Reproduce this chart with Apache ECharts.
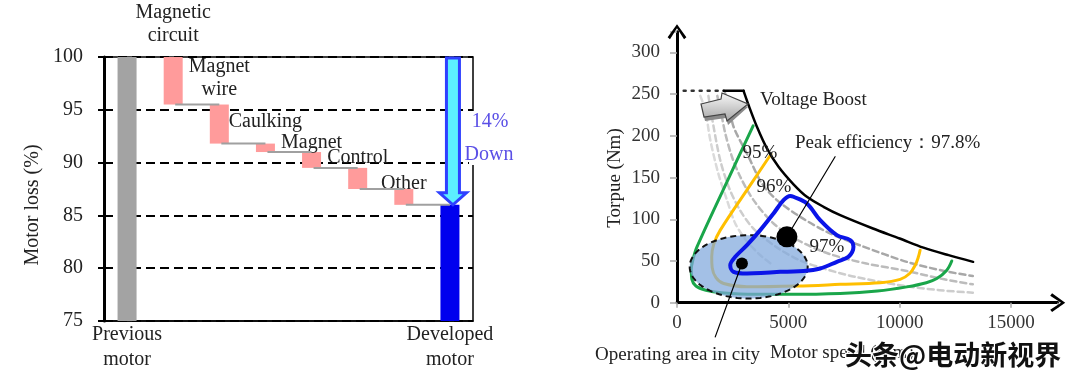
<!DOCTYPE html>
<html><head><meta charset="utf-8">
<script src="https://cdn.jsdelivr.net/npm/echarts@6/dist/echarts.min.js"></script>
<style>html,body{margin:0;padding:0;background:#fff}#c{width:1080px;height:381px}</style>
</head><body><div id="c"></div>
<script>
// ---------- left chart: motor loss waterfall ----------
const lossCategories = ['Previous\nmotor','Magnetic\ncircuit','Magnet\nwire','Caulking','Magnet','Control','Other','Developed\nmotor'];
const lossTop    = [100, 100, 95.5, 91.8, 91.0, 89.5, 87.5, 86.0];
const lossBottom = [75, 95.5, 91.8, 91.0, 89.5, 87.5, 86.0, 75];
const lossLabelGap = [0, 10, 3, 10, -2, -1, -6, 0];
const lossTicks = [75, 80, 85, 90, 95, 100];
const reductionArrow = [7, 100, 86];
const reductionText = ['14%', 'Down'];

// ---------- right chart: torque / speed map ----------
const speedTicks = [0, 5000, 10000, 15000];
const torqueTicks = [0, 50, 100, 150, 200, 250, 300];
const maxTorqueOld = [[300,254],[2100,254]];
const maxTorqueFlat = [[2100,254],[2990,254]];
const maxTorqueCurve = [[2990,254],[3214,237],[3590,211],[4040,185],[4560,163],[5233,142],[5834,127],[6580,115],[7330,105],[8800,89],[10000,77],[11070,66],[12200,57],[13300,49]];
const oldEff1 = [[1045,248],[1270,231],[1495,195],[1855,155],[2245,123],[2617,95],[3100,75],[3700,58],[4300,45]];
const oldEff2 = [[1410,248],[1650,210],[1950,170],[2350,137],[2850,110],[3500,87],[4500,66],[5500,51],[6580,41],[8000,31],[10000,21],[11800,15],[13288,12]];
const oldEff3 = [[1810,248],[2000,225],[2168,203],[2468,175],[2841,151],[3438,123],[4336,95],[5500,74],[6900,58],[8500,47],[10322,38],[12000,28],[13288,22]];
const oldMaxCurve = [[2150,252],[2350,235],[2540,211],[3214,175],[3814,143],[4488,123],[5534,103],[6800,84],[8300,68],[10322,49],[12000,38],[13288,32]];
const eff95 = [[3420,212],[2244,145],[897,67],[720,52],[640,40],[670,28],[850,20],[1300,15],[2000,12],[3500,10],[5000,10],[7330,11],[9000,14],[10322,19],[11200,24],[11670,29],[12118,39],[12342,50]];
const eff96 = [[4220,178],[3366,144],[1943,87],[1650,70],[1560,55],[1580,42],[1750,30],[2094,23],[3142,19],[5386,20],[7330,22],[9124,24],[10022,28],[10450,35],[10700,45],[10844,55],[10920,63]];
const eff97 = [[4636,37],[3142,35],[2540,37],[2392,45],[2617,55],[3142,69],[3739,87],[4336,107],[4785,123],[5084,128],[5233,127],[5834,119],[6431,99],[7181,81],[7778,75],[7926,67],[7702,55],[7181,49],[6431,41],[5682,38],[4636,37]];
const cityArea = [3220, 43, 2650, 38]; // centre x, centre y, half width, half height
const peakPoint = [4937, 79];
const cityPoint = [2917, 47];
const peakLeader = [[4937,79],[7100,175]];
const cityLeader = [[2917,47],[1718,-41]];

const serif = '"Liberation Serif", "Times New Roman", serif';
const chart = echarts.init(document.getElementById('c'), null, {renderer:'canvas'});

const pinkC = '#ff9b9b', grayC = '#a3a3a3', blueC = '#0000ee';
const deltaData = lossTop.map((t,i)=>{
  const item = {value: +(t - lossBottom[i]).toFixed(2),
    itemStyle:{color: i===0 ? grayC : (i===lossTop.length-1 ? blueC : pinkC)}};
  if (i>0 && i<lossTop.length-1) {
    item.label = {show:true, position:'top', distance: lossLabelGap[i], formatter: lossCategories[i]};
  }
  return item;
});
const connectorData = [];
for (let i=1;i<lossBottom.length-1;i++) connectorData.push([i, lossBottom[i]]);

function lineS(data, color, width, type, smooth){
  return {type:'line', xAxisIndex:1, yAxisIndex:1, data, showSymbol:false, symbol:'none', silent:true,
    smooth: smooth, lineStyle:{color, width, type: type||'solid', cap:'round', join:'round'}, z:2};
}

const chevron = 'path://M0,14 L10,0 L20,14 L17.5,16 L10,4.5 L2.5,16 Z';

const option = {
  animation:false,
  backgroundColor:'#fff',
  textStyle:{fontFamily: serif},
  grid:[
    {left:104, top:57, width:369, height:264, show:true, borderColor:'#000', borderWidth:1.5, backgroundColor:'transparent'},
    {left:677, top:31.65, right:22.3, bottom:78.3}
  ],
  xAxis:[
    {type:'category', gridIndex:0, data: lossCategories,
     axisLine:{show:true, lineStyle:{color:'#000', width:1.5}}, axisTick:{show:false},
     axisLabel:{interval:0, margin:1, lineHeight:25, fontSize:20, color:'#222', fontFamily:serif,
       formatter:(v,i)=> (i===0 || i===lossCategories.length-1) ? v : ''}},
    {type:'value', gridIndex:1, min:0, max:17100, interval:5000,
     axisLine:{show:true, onZero:false, symbol:['none', chevron], symbolSize:[20,15], lineStyle:{color:'#000', width:3}},
     axisTick:{show:true, length:5, lineStyle:{color:'#aaa', width:1.5}},
     splitLine:{show:false},
     axisLabel:{margin:11, fontSize:19, color:'#333', fontFamily:serif,
       formatter:(v)=> speedTicks.indexOf(v)>=0 ? String(v) : ''}}
  ],
  yAxis:[
    {type:'value', gridIndex:0, min:75, max:100, interval:5,
     axisLine:{show:true, lineStyle:{color:'#000', width:3}},
     axisTick:{show:true, length:6, lineStyle:{color:'#000', width:2}},
     splitLine:{show:true, lineStyle:{color:'#000', width:2, type:[9,5]}},
     axisLabel:{margin:21, fontSize:20, color:'#222', fontFamily:serif,
       formatter:(v)=> lossTicks.indexOf(v)>=0 ? String(v) : ''}},
    {type:'value', gridIndex:1, min:0, max:325, interval:50,
     axisLine:{show:true, onZero:false, symbol:['none', chevron], symbolSize:[20,15], lineStyle:{color:'#000', width:3}},
     axisTick:{show:true, length:7, lineStyle:{color:'#aaa', width:1.5}},
     splitLine:{show:false},
     axisLabel:{margin:17, fontSize:19, color:'#333', fontFamily:serif,
       formatter:(v)=> torqueTicks.indexOf(v)>=0 ? String(v) : ''}}
  ],
  series:[
    {type:'bar', stack:'w', xAxisIndex:0, yAxisIndex:0, data: lossBottom, barWidth:19,
     itemStyle:{color:'transparent'}, silent:true, z:3},
    {type:'bar', stack:'w', xAxisIndex:0, yAxisIndex:0, data: deltaData, barWidth:19, silent:true, z:3,
     label:{fontSize:20, color:'#222', fontFamily:serif, lineHeight:23}},
    {type:'custom', xAxisIndex:0, yAxisIndex:0, data: connectorData, silent:true, z:4,
     renderItem:(params, api)=>{
       const a = api.coord([api.value(0), api.value(1)]);
       const b = api.coord([api.value(0)+1, api.value(1)]);
       return {type:'line', shape:{x1:a[0]+2, y1:a[1], x2:b[0], y2:b[1]},
               style:{stroke:'#a0a0a0', lineWidth:2}};
     }},
    {type:'custom', xAxisIndex:0, yAxisIndex:0, data:[reductionArrow], silent:true, z:6,
     renderItem:(params, api)=>{
       const t = api.coord([api.value(0), api.value(1)]);
       const b = api.coord([api.value(0), api.value(2)]);
       const cx = t[0]+3, top = t[1]+1, tip = b[1];
       const sw=6.5, hw=13.5, hl=12;
       return {type:'polygon', shape:{points:[[cx-sw,top],[cx+sw,top],[cx+sw,tip-hl],[cx+hw,tip-hl],[cx,tip],[cx-hw,tip-hl],[cx-sw,tip-hl]]},
               style:{fill:'#5cf0ff', stroke:'#2e40ff', lineWidth:3, lineJoin:'miter'}};
     }},
    // right chart
    lineS(oldEff1, '#dadada', 2.5, [6,4], 0.3),
    lineS(oldEff2, '#cdcdcd', 2.5, [6,4], 0.3),
    lineS(oldEff3, '#bcbcbc', 2.5, [6,4], 0.3),
    lineS(oldMaxCurve, '#a8a8a8', 2.5, [6,4], 0.3),
    lineS(maxTorqueOld, '#333', 2.5, [2,6], false),
    lineS(eff95, '#1aa64a', 3, 'solid', 0.35),
    lineS(eff96, '#ffbf00', 3, 'solid', 0.35),
    {type:'custom', xAxisIndex:1, yAxisIndex:1, data:[cityArea], silent:true, z:3,
     renderItem:(params, api)=>{
       const c = api.coord([api.value(0), api.value(1)]);
       const s = api.size([api.value(2), api.value(3)]);
       const pts = [];
       for (let k=0;k<96;k++){ const a = k/96*Math.PI*2; pts.push([c[0]+s[0]*Math.cos(a), c[1]+s[1]*Math.sin(a)]); }
       return {type:'polygon', shape:{points:pts},
               style:{fill:'rgba(128,168,221,0.72)', stroke:'#111', lineWidth:2, lineDash:[6,4]}};
     }},
    Object.assign(lineS(eff97, '#0a14e8', 4, 'solid', 0.35), {z:4}),
    Object.assign(lineS(maxTorqueFlat, '#000', 2.5, 'solid', false), {z:4}),
    Object.assign(lineS(maxTorqueCurve, '#000', 2.5, 'solid', 0.3), {z:4}),
    Object.assign(lineS(peakLeader, '#000', 1.2, 'solid', false), {z:5, clip:false}),
    Object.assign(lineS(cityLeader, '#000', 1.2, 'solid', false), {z:5, clip:false}),
    {type:'scatter', xAxisIndex:1, yAxisIndex:1, data:[peakPoint], symbolSize:21, itemStyle:{color:'#000', opacity:1}, silent:true, z:6},
    {type:'scatter', xAxisIndex:1, yAxisIndex:1, data:[cityPoint], symbolSize:12, itemStyle:{color:'#000', opacity:1}, silent:true, z:6}
  ],
  graphic:[
    {type:'text', x:33, y:205, rotation:Math.PI/2, z:10,
     style:{text:'Motor loss (%)', font:'20px '+serif, fill:'#222', textAlign:'center', textVerticalAlign:'middle'}},
    {type:'rect', shape:{x:469, y:111, width:10, height:54}, style:{fill:'#fff'}, z:20},
    {type:'text', x:490, y:122, z:21, style:{text:reductionText[0], font:'20px '+serif, fill:'#5a4fe6', textAlign:'center', textVerticalAlign:'middle'}},
    {type:'text', x:489, y:155, z:21, style:{text:reductionText[1], font:'20px '+serif, fill:'#5a4fe6', textAlign:'center', textVerticalAlign:'middle'}},
    // right chart annotations
    {type:'text', x:615, y:178, rotation:Math.PI/2, z:10,
     style:{text:'Torpue (Nm)', font:'19px '+serif, fill:'#222', textAlign:'center', textVerticalAlign:'middle'}},
    {type:'polygon', z:8, shape:{points:[[702,107],[722,102],[723,96],[748,107],[728,125],[726,118],[705,121]]}, style:{fill:'#8a8a8a'}},
    {type:'polygon', z:9, shape:{points:[[701,104],[721,99],[722,93],[748,104],[727,121],[725,114],[704,117]]},
     style:{fill:new echarts.graphic.LinearGradient(0,0,0,1,[{offset:0,color:'#fafafa'},{offset:1,color:'#a5a5a5'}]), stroke:'#444', lineWidth:1.2}},
    {type:'text', x:760, y:100, z:10, style:{text:'Voltage Boost', font:'19px '+serif, fill:'#222', textVerticalAlign:'middle'}},
    {type:'text', x:795, y:143, z:10, style:{text:'Peak efficiency：97.8%', font:'19px '+serif, fill:'#222', textVerticalAlign:'middle'}},
    {type:'text', x:760, y:153, z:10, style:{text:'95%', font:'19px '+serif, fill:'#222', textAlign:'center', textVerticalAlign:'middle'}},
    {type:'text', x:774, y:187, z:10, style:{text:'96%', font:'19px '+serif, fill:'#222', textAlign:'center', textVerticalAlign:'middle'}},
    {type:'text', x:827, y:247, z:10, style:{text:'97%', font:'19px '+serif, fill:'#222', textAlign:'center', textVerticalAlign:'middle'}},
    {type:'text', x:595, y:355, z:10, style:{text:'Operating area in city', font:'19px '+serif, fill:'#222', textVerticalAlign:'middle'}},
    {type:'text', x:770, y:353, z:10, style:{text:'Motor speed (rpm)', font:'19px '+serif, fill:'#222', textVerticalAlign:'middle'}},
    {type:'text', x:845, y:355, z:30, style:{text:'头条@电动新视界', font:'bold 27px "Noto Sans CJK SC"', fill:'#111', stroke:'#fff', lineWidth:2.5, textVerticalAlign:'middle'}}
  ]
};
chart.setOption(option);
</script></body></html>
